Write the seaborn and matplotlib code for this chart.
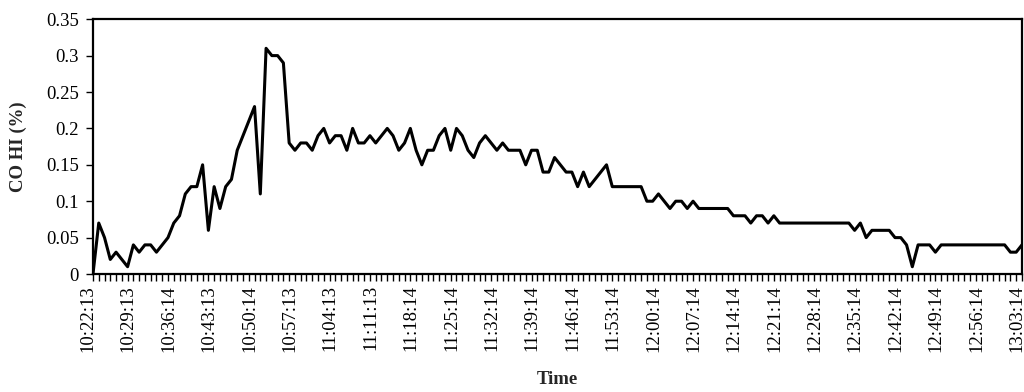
import numpy as np
import pandas as pd
import matplotlib
matplotlib.use("Agg")
import matplotlib.pyplot as plt
import matplotlib.transforms as mtransforms
import seaborn as sns
from matplotlib.ticker import FixedLocator, FuncFormatter

# CO HI (%) readings, one per minute from 10:22:13 to 13:03:14
co_hi = [
    0.00, 0.07, 0.05, 0.02, 0.03, 0.02, 0.01, 0.04, 0.03, 0.04,
    0.04, 0.03, 0.04, 0.05, 0.07, 0.08, 0.11, 0.12, 0.12, 0.15,
    0.06, 0.12, 0.09, 0.12, 0.13, 0.17, 0.19, 0.21, 0.23, 0.11,
    0.31, 0.30, 0.30, 0.29, 0.18, 0.17, 0.18, 0.18, 0.17, 0.19,
    0.20, 0.18, 0.19, 0.19, 0.17, 0.20, 0.18, 0.18, 0.19, 0.18,
    0.19, 0.20, 0.19, 0.17, 0.18, 0.20, 0.17, 0.15, 0.17, 0.17,
    0.19, 0.20, 0.17, 0.20, 0.19, 0.17, 0.16, 0.18, 0.19, 0.18,
    0.17, 0.18, 0.17, 0.17, 0.17, 0.15, 0.17, 0.17, 0.14, 0.14,
    0.16, 0.15, 0.14, 0.14, 0.12, 0.14, 0.12, 0.13, 0.14, 0.15,
    0.12, 0.12, 0.12, 0.12, 0.12, 0.12, 0.10, 0.10, 0.11, 0.10,
    0.09, 0.10, 0.10, 0.09, 0.10, 0.09, 0.09, 0.09, 0.09, 0.09,
    0.09, 0.08, 0.08, 0.08, 0.07, 0.08, 0.08, 0.07, 0.08, 0.07,
    0.07, 0.07, 0.07, 0.07, 0.07, 0.07, 0.07, 0.07, 0.07, 0.07,
    0.07, 0.07, 0.06, 0.07, 0.05, 0.06, 0.06, 0.06, 0.06, 0.05,
    0.05, 0.04, 0.01, 0.04, 0.04, 0.04, 0.03, 0.04, 0.04, 0.04,
    0.04, 0.04, 0.04, 0.04, 0.04, 0.04, 0.04, 0.04, 0.04, 0.03,
    0.03, 0.04,
]

# labelled times (every 7th reading)
tick_labels = [
    "10:22:13", "10:29:13", "10:36:14", "10:43:13", "10:50:14", "10:57:13",
    "11:04:13", "11:11:13", "11:18:14", "11:25:14", "11:32:14", "11:39:14",
    "11:46:14", "11:53:14", "12:00:14", "12:07:14", "12:14:14", "12:21:14",
    "12:28:14", "12:35:14", "12:42:14", "12:49:14", "12:56:14", "13:03:14",
]
label_step = 7
y_ticks = [0, 0.05, 0.1, 0.15, 0.2, 0.25, 0.3, 0.35]

df = pd.DataFrame({"idx": np.arange(len(co_hi)), "co": co_hi})

sns.set_theme(style="ticks")
plt.rcParams["font.family"] = ["Liberation Serif", "DejaVu Serif"]

fig, ax = plt.subplots(figsize=(10.24, 3.92), dpi=100)
fig.subplots_adjust(left=0.0908, right=0.998, top=0.951, bottom=0.301)

sns.lineplot(data=df, x="idx", y="co", ax=ax, color="black", linewidth=2.2)

ax.set_xlim(0, len(co_hi) - 1)
ax.set_ylim(0, 0.35)
ax.yaxis.set_major_locator(FixedLocator(y_ticks))
ax.yaxis.set_major_formatter(FuncFormatter(lambda v, p: f"{v:g}"))

ax.xaxis.set_major_locator(FixedLocator(np.arange(0, len(co_hi), label_step)))
ax.xaxis.set_minor_locator(FixedLocator(np.arange(len(co_hi))))
ax.set_xticklabels(tick_labels, rotation=90)

for s in ax.spines.values():
    s.set_visible(True)
    s.set_linewidth(1.6)
    s.set_color("black")

ax.tick_params(axis="x", which="both", direction="out", length=5, width=1.0,
               colors="black", labelsize=13.5, pad=3)
ax.tick_params(axis="y", which="major", direction="out", length=5, width=1.0,
               colors="black", labelsize=13.5, pad=5)

# Excel-style rotated labels sit a little left of their tick
# (done after tick_params, which resets the label transforms)
shift = mtransforms.ScaledTranslation(-5 / 100, 0, fig.dpi_scale_trans)
for lab in ax.get_xticklabels():
    lab.set_transform(lab.get_transform() + shift)

ax.set_xlabel("Time", fontsize=13.5, fontweight="bold", labelpad=14)
ax.set_ylabel("CO HI (%)", fontsize=13.5, fontweight="bold", labelpad=14)

fig.savefig("out.png", dpi=100, facecolor="white")
